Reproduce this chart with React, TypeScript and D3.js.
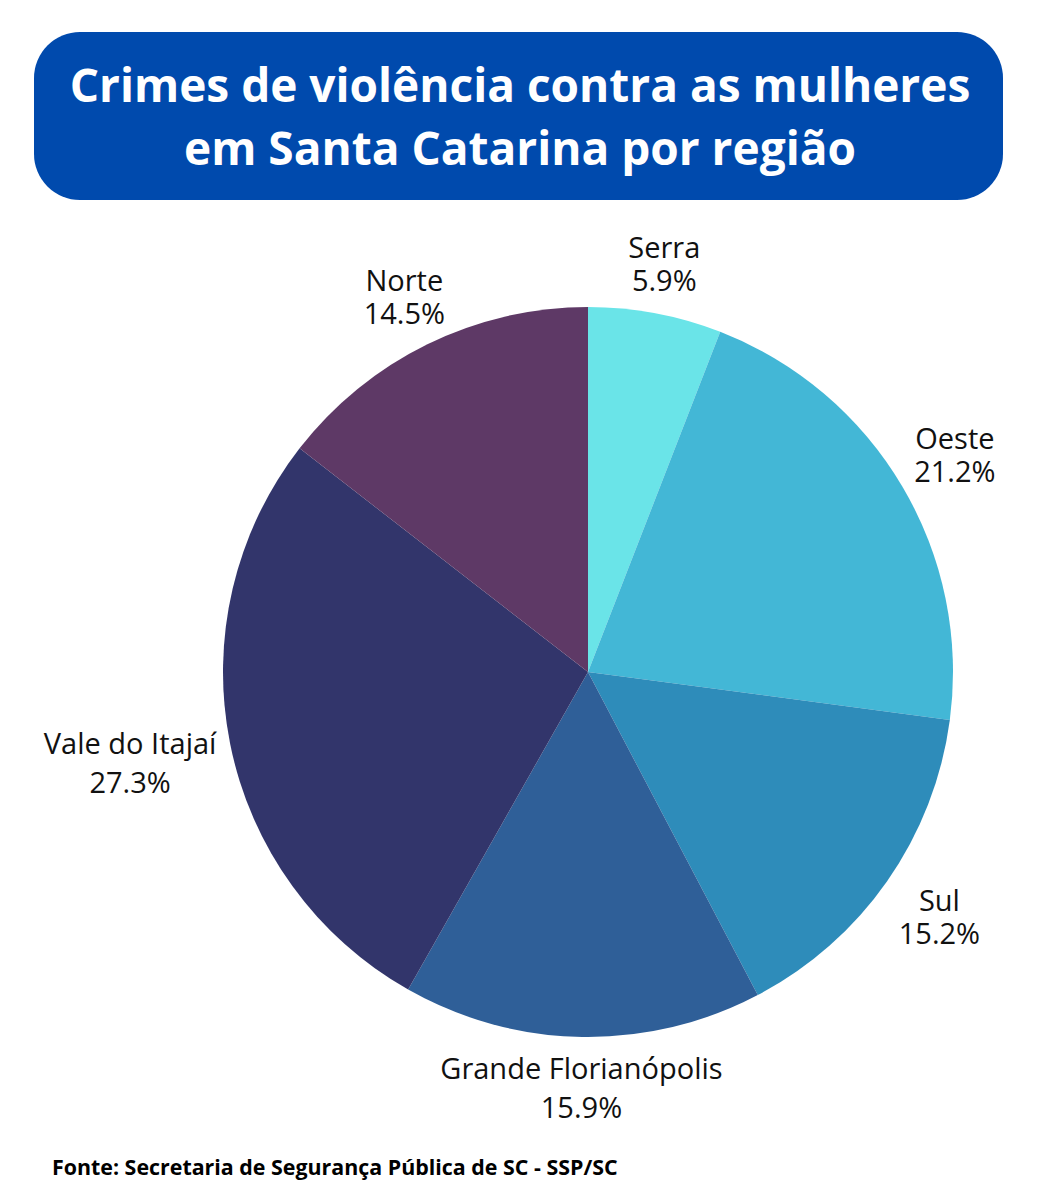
import React from "react";
import * as d3 from "d3";

const regions = ["Serra", "Oeste", "Sul", "Grande Florianópolis", "Vale do Itajaí", "Norte"];
const shares = [5.9, 21.2, 15.2, 15.9, 27.3, 14.5];
const colors = ["#6ae4e8", "#43b7d6", "#2e8cba", "#2f5f98", "#32356b", "#5e3966"];
const titleLines = ["Crimes de violência contra as mulheres", "em Santa Catarina por região"];
const sourceText = "Fonte: Secretaria de Segurança Pública de SC - SSP/SC";

const W = 1039;
const H = 1200;
const cx = 588;
const cy = 672;
const R = 365;
const LABEL_FONT = 29;
const GAP = 14;

function measure(text: string, font: string): number {
  if (typeof document === "undefined") return text.length * 15;
  const c = document.createElement("canvas");
  const ctx = c.getContext("2d");
  if (!ctx) return text.length * 15;
  ctx.font = font;
  return ctx.measureText(text).width;
}

export default function App() {
  const data = regions.map((r, i) => ({ region: r, value: shares[i], color: colors[i] }));
  const pie = d3.pie<any>().sort(null).value((d: any) => d.value);
  const arcs = pie(data);
  const arcGen = d3.arc<any>().innerRadius(0).outerRadius(R);

  return (
    <svg width={W} height={H} style={{ display: "block", position: "absolute", left: 0, top: 0 }}>
      <rect x={0} y={0} width={W} height={H} fill="#ffffff" />
      <rect x={34} y={32} width={969} height={168} rx={46} ry={46} fill="#004aad" />
      {titleLines.map((t, i) => (
        <text
          key={i}
          x={520}
          y={102 + i * 63}
          textAnchor="middle"
          fontFamily="'Open Sans', sans-serif"
          fontWeight={700}
          fontSize={46}
          fill="#ffffff"
        >
          {t}
        </text>
      ))}
      <g transform={`translate(${cx},${cy})`}>
        {arcs.map((a, i) => (
          <path key={i} d={arcGen(a) as string} fill={a.data.color} />
        ))}
      </g>
      {arcs.map((a, i) => {
        const mid = (a.startAngle + a.endAngle) / 2;
        const ux = Math.sin(mid);
        const uy = -Math.cos(mid);
        const label = a.data.region;
        const pct = `${d3.format(".1f")(a.data.value)}%`;
        const font = `${LABEL_FONT}px 'Open Sans'`;
        const lw = measure(label, font);
        const w = Math.max(lw, measure(pct, font));
        const LH = lw > 140 ? 39 : 33;
        const hw = w / 2;
        const hh = (LH + 36) / 2;
        const dEdge = Math.min(
          Math.abs(ux) > 1e-6 ? hw / Math.abs(ux) : Infinity,
          Math.abs(uy) > 1e-6 ? hh / Math.abs(uy) : Infinity
        );
        const dist = R + GAP + dEdge;
        const lx = cx + ux * dist;
        const ly = cy + uy * dist;
        const b1 = ly - LH / 2 + 10;
        return (
          <g key={i}>
            <text
              x={lx}
              y={b1}
              textAnchor="middle"
              fontFamily="'Open Sans', sans-serif"
              fontSize={LABEL_FONT}
              fill="#111111"
            >
              {label}
            </text>
            <text
              x={lx}
              y={b1 + LH}
              textAnchor="middle"
              fontFamily="'Open Sans', sans-serif"
              fontSize={LABEL_FONT}
              fill="#111111"
            >
              {pct}
            </text>
          </g>
        );
      })}
      <text
        x={52}
        y={1175}
        fontFamily="'Open Sans', sans-serif"
        fontWeight={700}
        fontSize={21.4}
        fill="#000000"
      >
        {sourceText}
      </text>
    </svg>
  );
}
